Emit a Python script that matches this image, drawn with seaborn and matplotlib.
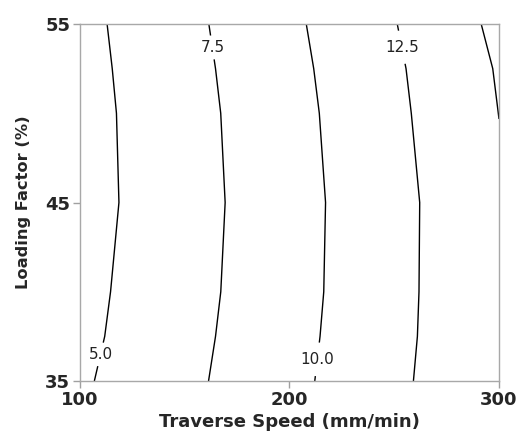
import numpy as np
import matplotlib
matplotlib.use("Agg")
import matplotlib.pyplot as plt
import seaborn as sns

# ---- data ----
traverse_speed = [100, 150, 200, 250, 300]               # mm/min (grid columns)
loading_factor = [35, 37.5, 40, 45, 50, 52.5, 55]        # % (grid rows)
response_35 = [4.69, 6.95, 9.37, 11.98, 14.82]
response_37_5 = [4.45, 6.78, 9.23, 11.87, 14.72]
response_40 = [4.32, 6.65, 9.12, 11.81, 14.73]
response_45 = [4.10, 6.52, 9.06, 11.79, 14.71]
response_50 = [4.14, 6.61, 9.20, 12.01, 15.02]
response_52_5 = [4.23, 6.73, 9.35, 12.16, 15.18]
response_55 = [4.34, 6.89, 9.54, 12.41, 15.53]
contour_levels = [5.0, 7.5, 10.0, 12.5, 15.0]
labelled_levels = [5.0, 7.5, 10.0, 12.5]
label_positions = [(109.5, 36.5), (164, 53.7), (214.4, 36.2), (253.7, 53.7)]
x_ticks = [100, 200, 300]
y_ticks = [35, 45, 55]

sns.set_style("white")
plt.rcParams['font.family'] = ['DejaVu Sans']

Z = np.array([response_35, response_37_5, response_40, response_45,
              response_50, response_52_5, response_55])

fig = plt.figure(figsize=(5.18, 4.37), dpi=100)
ax = fig.add_axes([0.1544, 0.1281, 0.8089, 0.817])

cs = ax.contour(traverse_speed, loading_factor, Z, levels=contour_levels,
                colors='black', linewidths=1.0)
texts = ax.clabel(cs, levels=labelled_levels, fmt='%.1f', fontsize=11, inline=True,
                  inline_spacing=0, manual=label_positions, colors='#222222')
for t in texts:
    t.set_rotation(0)

ax.set_xlim(100, 300)
ax.set_ylim(35, 55)
ax.set_xticks(x_ticks)
ax.set_yticks(y_ticks)
ax.tick_params(direction='out', length=5, width=1, color='#a0a0a0',
               labelsize=13, pad=2, bottom=True, left=True)
for lab in ax.get_xticklabels() + ax.get_yticklabels():
    lab.set_fontweight('bold')
for sp in ax.spines.values():
    sp.set_color('#a8a8a8')
    sp.set_linewidth(1.0)

ax.set_xlabel('Traverse Speed (mm/min)', fontsize=13, fontweight='bold', labelpad=3)
ax.set_ylabel('Loading Factor (%)', fontsize=11.7, fontweight='bold', labelpad=10)

fig.savefig('out.png', dpi=100)
